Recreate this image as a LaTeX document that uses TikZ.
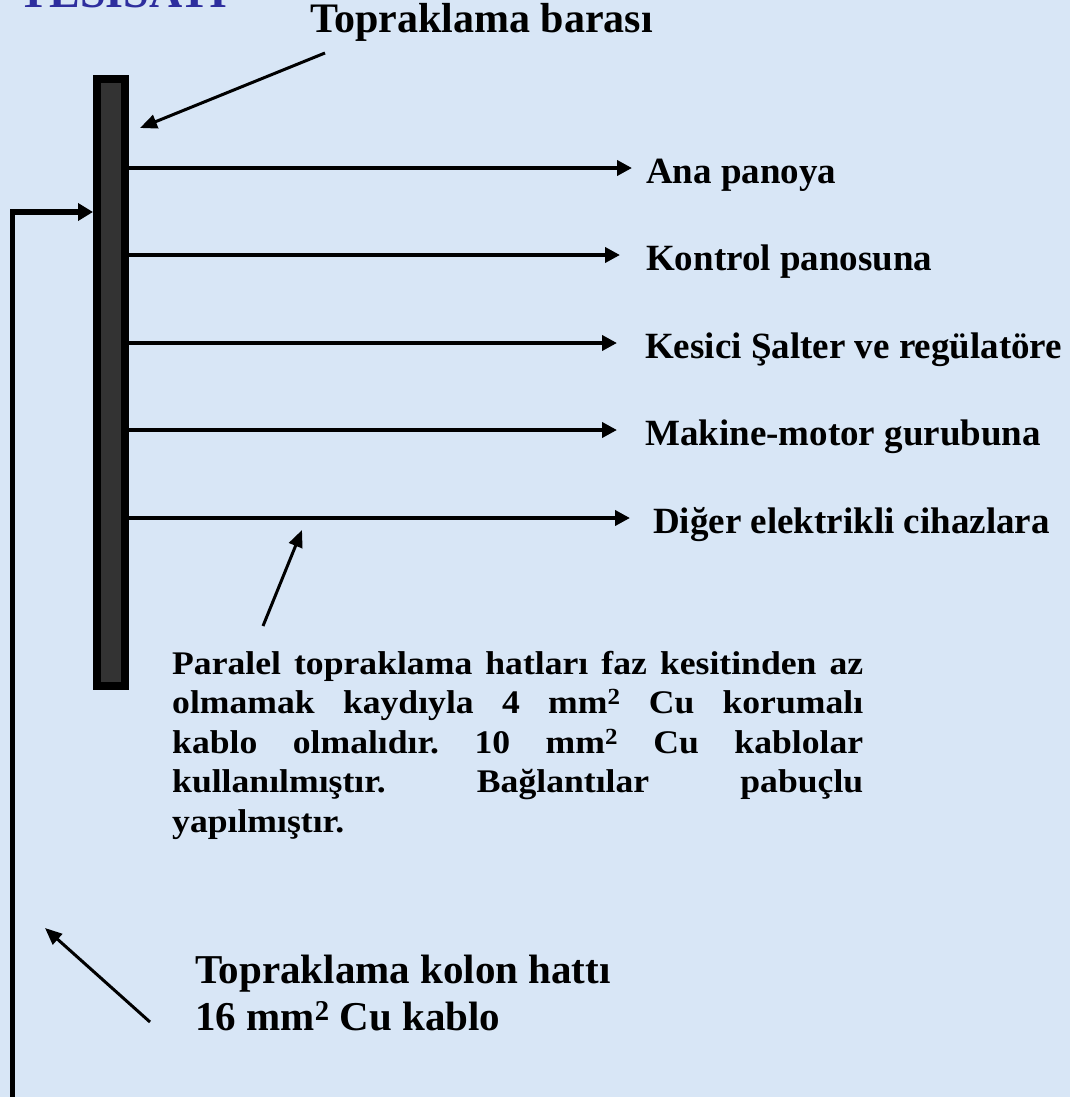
\documentclass[tikz,border=0pt]{standalone}
\usepackage{fontspec}
\setmainfont{Liberation Serif}
\newfontfamily\widefont{Liberation Serif}[FakeStretch=1.08]
\usetikzlibrary{arrows.meta, positioning}

\definecolor{slidebg}{RGB}{216,230,246}
\definecolor{titleblue}{RGB}{46,46,158}
\definecolor{barfill}{RGB}{51,51,51}

\begin{document}
\begin{tikzpicture}[
    x=1pt, y=-1pt,
    >={Triangle[length=15pt, width=15pt]},
    feed/.style={line width=4pt, ->},
    leader/.style={line width=3pt, -{Triangle[length=17pt, width=14pt]}},
    branchtext/.style={anchor=base west, inner sep=0pt,
        font=\fontsize{37}{41}\selectfont\bfseries},
    bigtext/.style={anchor=base west, inner sep=0pt,
        font=\fontsize{41}{45}\selectfont\bfseries},
]

% --- Page and background ---
\useasboundingbox (0,0) rectangle (1070,1097);
\clip (0,0) rectangle (1070,1097);
\fill[slidebg] (0,0) rectangle (1070,1097);

% --- Title (cut at the top edge) ---
\node[anchor=base east, inner sep=0pt, text=titleblue,
    font=\fontsize{46}{50}\selectfont\bfseries] (title) at (228,8) {TESİSATI};

% --- Earthing bar ---
\node[draw=black, line width=8pt, fill=barfill, inner sep=0pt,
    minimum width=28pt, minimum height=607pt] (bara) at (111,382.5) {};

\node[bigtext, font=\fontsize{42}{46}\selectfont\bfseries] (baratext) at (310,33) {Topraklama barası};
\coordinate (barafrom) at (325,53);
\coordinate (barato) at (140,128);
\draw[leader] (barafrom) -- (barato);

% --- Branch lines to the consumers ---
\foreach \yy/\tipx/\txtx/\nm/\txt in {
    168/632/646/ana/Ana panoya,
    255/620/646/kontrol/Kontrol panosuna,
    343/617/645/kesici/Kesici Şalter ve regülatöre,
    430/617/645/makine/Makine-motor gurubuna,
    518/630/653/diger/Diğer elektrikli cihazlara} {
    \coordinate (\nm tip) at (\tipx,\yy);
    \node[branchtext] (\nm) at (\txtx,\yy+15) {\txt};
    \draw[feed] (bara.east |- \nm tip) -- (\nm tip);
}

% --- Note on the parallel lines ---
\node[anchor=north west, inner sep=0pt, text width=691pt, align=justify,
    font=\widefont\fontsize{33}{39.5}\selectfont\bfseries\frenchspacing] (paralel) at (172,651)
    {Paralel topraklama hatları faz kesitinden az\linebreak
     olmamak kaydıyla 4 mm\textsuperscript{2} Cu korumalı\linebreak
     kablo olmalıdır. 10 mm\textsuperscript{2} Cu kablolar\linebreak
     kullanılmıştır. Bağlantılar pabuçlu\linebreak
     yapılmıştır.};
\coordinate (paralelfrom) at (263,626);
\coordinate (paralelto) at (302,530);
\draw[leader] (paralelfrom) -- (paralelto);

% --- Column line from below ---
\coordinate (kolonfoot) at (12.5,1110);
\coordinate (kolonknee) at (12.5,212);
\draw[line width=5.5pt, line join=miter, -{Triangle[length=15pt, width=17pt]}]
    (kolonfoot) -- (kolonknee) -- (bara.west |- kolonknee);

\node[bigtext] (kolon) at (195,983) {Topraklama kolon hattı};
\node[bigtext] (kablo) at (195,1030) {16 mm\textsuperscript{2} Cu kablo};
\coordinate (kolonfrom) at (150,1022);
\coordinate (kolonto) at (45,928);
\draw[leader] (kolonfrom) -- (kolonto);

\end{tikzpicture}
\end{document}
